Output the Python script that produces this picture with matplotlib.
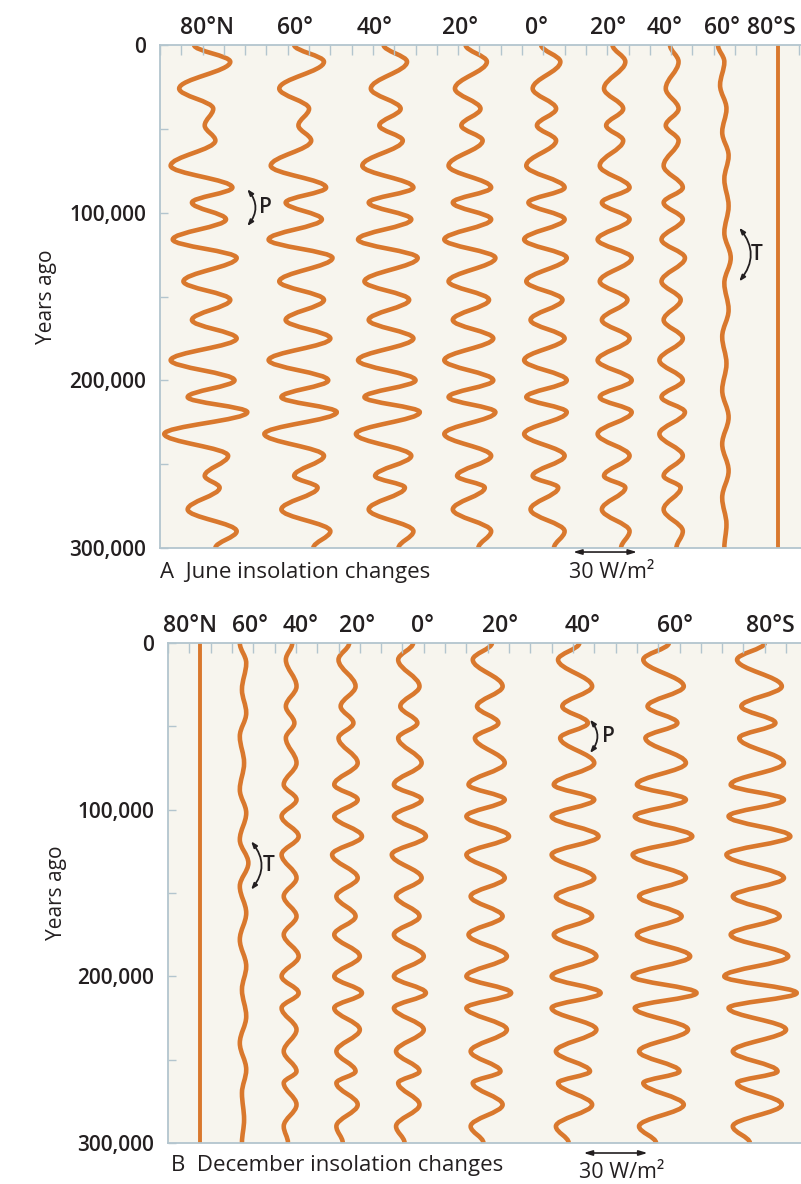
import matplotlib.pyplot as plt
from matplotlib.path import Path
from matplotlib.patches import PathPatch
from matplotlib.ticker import MultipleLocator
from matplotlib.transforms import blended_transform_factory

plt.rcParams['font.family'] = ['Open Sans', 'DejaVu Sans']

ORANGE = '#D9782D'
FRAME = '#B3C5CE'
INK = '#231F20'

# turning points of the precession wiggles (thousands of years ago), shared by all curves
turn_kyr = [0, 10, 26, 38, 48, 57, 72, 85, 94, 104, 116, 127, 141, 152, 164,
            175, 188, 200, 210, 219, 232, 245, 257, 264, 277, 290, 300]

# June insolation anomalies at the turning points (W/m2)
june_labels = ['80°N', '60°', '40°', '20°', '0°', '20°', '40°', '60°', '80°S']
june_80n = [-5, 12, -12, 4, 0, 5, -16, 13, -6, 10, -15, 15, -10, 12, -6, 15, -16, 14, -8, 20, -19, 11, 0, 7, -8, 15, 5]
june_60n = [-3, 11, -10, 4, -1, 5, -14, 12, -7, 10, -15, 15, -10, 11, -7, 14, -15, 13, -9, 17, -17, 11, -3, 8, -9, 14, 6]
june_40n = [-2, 9, -8, 6, -4, 7, -12, 12, -9, 11, -14, 14, -11, 10, -9, 12, -14, 13, -11, 15, -15, 11, -6, 8, -9, 12, 5]
june_20n = [-2, 8, -7, 5, -4, 6, -10, 10, -8, 10, -12, 12, -10, 9, -8, 11, -12, 11, -10, 12, -12, 10, -6, 7, -8, 10, 4]
june_eq = [-2, 7, -6, 5, -4, 5, -9, 9, -8, 9, -10, 10, -9, 8, -7, 9, -10, 10, -9, 10, -10, 9, -6, 6, -7, 9, 4]
june_20s = [-1, 5, -5, 4, -4, 4, -7, 7, -6, 7, -8, 8, -7, 6, -6, 7, -8, 8, -7, 8, -8, 7, -5, 5, -6, 7, 3]
june_40s = [-1, 3, -3, 3, -3, 3, -4, 5, -4, 5, -5, 6, -5, 4, -4, 5, -6, 5, -5, 6, -6, 5, -4, 4, -4, 5, 2]
# 60S in June follows the tilt cycle
june_60s_kyr = [0, 10, 24, 38, 52, 66, 80, 96, 112, 127, 142, 158, 174, 190, 206, 222, 238, 254, 270, 286, 300]
june_60s = [-3, 0, -2, 1, -1, 2, 0, 2, 0, 3, 0, 2, -1, 1, -1, 2, -1, 2, -1, 1, 0]

# December insolation anomalies (W/m2)
dec_labels = ['80°N', '60°', '40°', '20°', '0°', '20°', '40°', '60°', '80°S']
dec_60n_kyr = [0, 12, 28, 42, 56, 72, 88, 102, 118, 132, 146, 162, 178, 194, 208, 224, 240, 256, 270, 286, 300]
dec_60n = [-1, 2, 0, 2, -1, 1, -1, 2, -1, 3, -1, 2, -1, 2, 0, 2, -1, 2, 0, 1, 0]
dec_40n = [1, -2, 3, -2, 2, -2, 3, -3, 3, -4, 4, -4, 3, -3, 3, -3, 4, -4, 4, -4, 3, -3, 3, -3, 3, -3, -1]
dec_20n = [1, -4, 4, -3, 3, -4, 5, -6, 5, -6, 7, -7, 5, -5, 4, -6, 6, -6, 7, -6, 6, -5, 4, -5, 5, -5, -2]
dec_eq = [2, -5, 5, -4, 4, -5, 6, -7, 6, -7, 8, -8, 6, -6, 5, -7, 7, -7, 8, -7, 7, -6, 5, -5, 5, -6, -2]
dec_20s = [2, -7, 7, -5, 5, -6, 8, -9, 8, -10, 10, -10, 8, -8, 7, -9, 9, -10, 11, -10, 9, -8, 6, -7, 7, -8, -2]
dec_40s = [2, -8, 8, -6, 6, -7, 9, -10, 9, -11, 11, -11, 9, -9, 8, -10, 10, -11, 12, -11, 10, -9, 7, -8, 8, -9, -3]
dec_60s = [3, -9, 10, -7, 7, -8, 11, -12, 11, -13, 14, -14, 11, -11, 9, -12, 13, -14, 16, -13, 12, -11, 8, -9, 10, -11, -3]
dec_80s = [3, -10, 11, -8, 8, -9, 12, -13, 12, -14, 15, -15, 12, -12, 10, -13, 14, -16, 18, -14, 13, -12, 9, -10, 11, -12, -4]

# layout: column centres in W/m2 from the left frame
june_centres = [21, 66, 107, 145.5, 181, 213.5, 240.5, 265, 290]
june_label_x = [22, 63.4, 101, 140.8, 177, 210.3, 237.1, 263.8, 287.3]
dec_centres = [15, 34.7, 57.3, 84, 113, 150, 191, 232, 277]
dec_label_x = [10.3, 38.5, 62, 88.7, 119.2, 155.9, 194.4, 237.9, 282.6]


def wave(ax, centre, kyr, offsets, k=0.36):
    # smooth curve through the turning points, vertical tangent at each one
    verts = [(centre + offsets[0], kyr[0] * 1000)]
    codes = [Path.MOVETO]
    for i in range(len(kyr) - 1):
        t0, t1 = kyr[i] * 1000, kyr[i + 1] * 1000
        x0, x1 = centre + offsets[i], centre + offsets[i + 1]
        d = (t1 - t0) * k
        verts += [(x0, t0 + d), (x1, t1 - d), (x1, t1)]
        codes += [Path.CURVE4] * 3
    ax.add_patch(PathPatch(Path(verts, codes), fill=False, ec=ORANGE, lw=3.3,
                           capstyle='butt', joinstyle='round'))


def straight(ax, centre):
    ax.plot([centre, centre], [0, 300000], color=ORANGE, lw=2.8, solid_capstyle='butt')


def setup(ax, xmax, labels, label_x):
    ax.set_xlim(0, xmax)
    ax.set_ylim(300000, 0)
    ax.set_facecolor('#F7F5EE')
    ax.spines['right'].set_visible(False)
    for s in ['left', 'top', 'bottom']:
        ax.spines[s].set_color(FRAME)
        ax.spines[s].set_linewidth(1.3)
    ax.xaxis.set_ticks_position('top')
    ax.xaxis.set_major_locator(MultipleLocator(10))
    ax.tick_params(axis='x', direction='in', length=7, width=1, color=FRAME,
                   labeltop=False, labelbottom=False)
    ax.set_yticks([0, 100000, 200000, 300000], labels=['0', '100,000', '200,000', '300,000'])
    ax.yaxis.set_minor_locator(MultipleLocator(50000))
    ax.tick_params(axis='y', which='both', direction='in', length=6, width=1, color=FRAME,
                   labelsize=15, labelcolor=INK, pad=10)
    for lab in ax.get_yticklabels():
        lab.set_fontweight('semibold')
    ax.set_ylabel('Years ago', fontsize=15, color=INK)
    ax.yaxis.set_label_coords(-0.16, 0.5)
    tr = blended_transform_factory(ax.transData, ax.transAxes)
    for lab, x in zip(labels, label_x):
        ax.text(x, 1.034, lab, transform=tr, ha='center', va='center', fontsize=16.5,
                color=INK, fontweight='semibold')


def bracket(ax, x, t0, t1, letter):
    ax.annotate('', xy=(x, t1 * 1000), xytext=(x, t0 * 1000),
                arrowprops=dict(arrowstyle='<|-|>,head_length=0.35,head_width=0.13',
                                connectionstyle='arc3,rad=-0.4', color=INK, lw=1.3,
                                shrinkA=0, shrinkB=0))
    ax.text(x + 5.5, (t0 + t1) / 2 * 1000, letter, fontsize=15, color=INK,
            ha='left', va='center', fontweight='semibold')


def scale_bar(ax, x0, y, ty):
    tr = blended_transform_factory(ax.transData, ax.transAxes)
    ax.annotate('', xy=(x0 + 30, y), xytext=(x0, y), xycoords=tr, textcoords=tr,
                arrowprops=dict(arrowstyle='<|-|>,head_length=0.5,head_width=0.15',
                                color=INK, lw=1.2, shrinkA=0, shrinkB=0),
                annotation_clip=False)
    ax.text(x0 - 2, ty, '30 W/m²', transform=tr, ha='left', va='center',
            fontsize=15.5, color=INK)


fig = plt.figure(figsize=(8.01, 11.84), dpi=100)

# A  June
axA = fig.add_axes([160 / 801, 1 - 548 / 1184, 641 / 801, 503 / 1184])
setup(axA, 301, june_labels, june_label_x)
for c, s in zip(june_centres[:7], [june_80n, june_60n, june_40n, june_20n, june_eq, june_20s, june_40s]):
    wave(axA, c, turn_kyr, s)
wave(axA, june_centres[7], june_60s_kyr, june_60s)
straight(axA, june_centres[8])
bracket(axA, 41, 86, 108, 'P')
bracket(axA, 272, 109, 141, 'T')
scale_bar(axA, 194, -0.008, -0.048)
axA.text(0, -0.048, 'A  June insolation changes', transform=axA.transAxes,
         ha='left', va='center', fontsize=16, color=INK)

# B  December
axB = fig.add_axes([168 / 801, 1 - 1143 / 1184, 633 / 801, 500 / 1184])
setup(axB, 297, dec_labels, dec_label_x)
straight(axB, dec_centres[0])
wave(axB, dec_centres[1], dec_60n_kyr, dec_60n)
for c, s in zip(dec_centres[2:], [dec_40n, dec_20n, dec_eq, dec_20s, dec_40s, dec_60s, dec_80s]):
    wave(axB, c, turn_kyr, s)
bracket(axB, 198, 46, 66, 'P')
bracket(axB, 39, 119, 148, 'T')
scale_bar(axB, 195, -0.02, -0.06)
axB.text(0.005, -0.046, 'B  December insolation changes', transform=axB.transAxes,
         ha='left', va='center', fontsize=16, color=INK)

fig.savefig('out.png', dpi=100)
